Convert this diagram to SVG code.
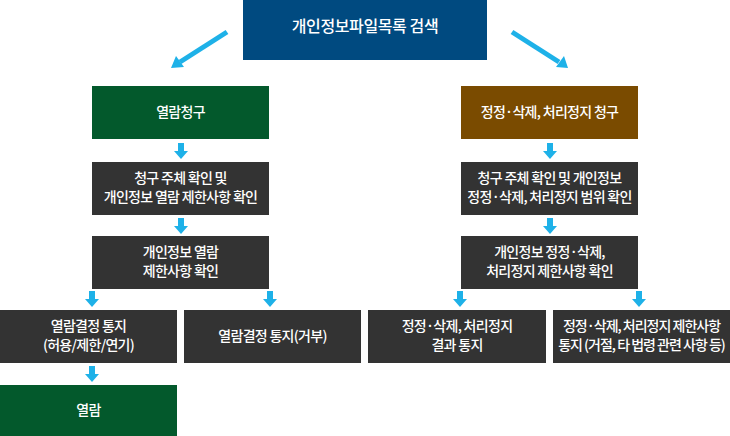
<svg xmlns="http://www.w3.org/2000/svg" width="730" height="436" viewBox="0 0 730 436">
<defs>
<style>
.t{font-family:"Noto Sans CJK KR","Noto Sans",sans-serif;font-size:14px;font-weight:500;fill:#ffffff;text-anchor:middle;letter-spacing:-0.7px}
.dark{fill:#333333}
.green{fill:#03592c}
.brown{fill:#7a4b00}
.blue{fill:#004a80}
.arr{fill:#1eb1e8}
.diag{stroke:#1eb1e8;stroke-width:5;fill:none}
</style>
<polygon id="da" points="-3,0 3,0 3,8 7,8 0,16 -7,8 -3,8" class="arr"/>
</defs>
<g id="connectors">
<line class="diag" x1="227" y1="32" x2="180" y2="62"/>
<polygon class="arr" points="171,68 176,56 184,67"/>
<line class="diag" x1="512" y1="32" x2="559" y2="62"/>
<polygon class="arr" points="568,68 564,56 556,67"/>
<use href="#da" x="181" y="143"/>
<use href="#da" x="181" y="218"/>
<use href="#da" x="92" y="291"/>
<use href="#da" x="270" y="291"/>
<use href="#da" x="92" y="366"/>
<use href="#da" x="550" y="143"/>
<use href="#da" x="550" y="218"/>
<use href="#da" x="460" y="291"/>
<use href="#da" x="639" y="291"/>
</g>
<g id="n-top"><rect class="blue" x="243" y="0" width="244" height="60"/><text class="t" x="365" y="32" style="font-size:16px;letter-spacing:-0.4px">개인정보파일목록 검색</text></g>
<g id="n-req"><rect class="green" x="92" y="86" width="177" height="53"/><text class="t" x="180.5" y="117">열람청구</text></g>
<g id="n-l2"><rect class="dark" x="92" y="162" width="177" height="53"/><text class="t" x="180.5" y="183">청구 주체 확인 및</text><text class="t" x="180.5" y="202">개인정보 열람 제한사항 확인</text></g>
<g id="n-l3"><rect class="dark" x="92" y="236" width="177" height="53"/><text class="t" x="180.5" y="257">개인정보 열람</text><text class="t" x="180.5" y="276">제한사항 확인</text></g>
<g id="n-l4a"><rect class="dark" x="0" y="310" width="177" height="53"/><text class="t" x="88.5" y="331">열람결정 통지</text><text class="t" x="88.5" y="350">(허용/제한/연기)</text></g>
<g id="n-l4b"><rect class="dark" x="184" y="310" width="177" height="53"/><text class="t" x="272.5" y="341">열람결정 통지(거부)</text></g>
<g id="n-l5"><rect class="green" x="0" y="385" width="177" height="51"/><text class="t" x="88.5" y="415">열람</text></g>
<g id="n-r1"><rect class="brown" x="461" y="86" width="177" height="53"/><text class="t" x="549.5" y="117">정정·삭제, 처리정지 청구</text></g>
<g id="n-r2"><rect class="dark" x="461" y="162" width="177" height="53"/><text class="t" x="549.5" y="183">청구 주체 확인 및 개인정보</text><text class="t" x="549.5" y="202">정정·삭제, 처리정지 범위 확인</text></g>
<g id="n-r3"><rect class="dark" x="461" y="236" width="177" height="53"/><text class="t" x="549.5" y="257">개인정보 정정·삭제,</text><text class="t" x="549.5" y="276">처리정지 제한사항 확인</text></g>
<g id="n-r4a"><rect class="dark" x="368" y="310" width="178" height="53"/><text class="t" x="457" y="331">정정·삭제, 처리정지</text><text class="t" x="457" y="350">결과 통지</text></g>
<g id="n-r4b"><rect class="dark" x="553" y="310" width="177" height="53"/><text class="t" x="641.5" y="331" style="letter-spacing:-1px">정정·삭제, 처리정지 제한사항</text><text class="t" x="641.5" y="350" style="letter-spacing:-1px">통지 (거절, 타 법령 관련 사항 등)</text></g>
</svg>
